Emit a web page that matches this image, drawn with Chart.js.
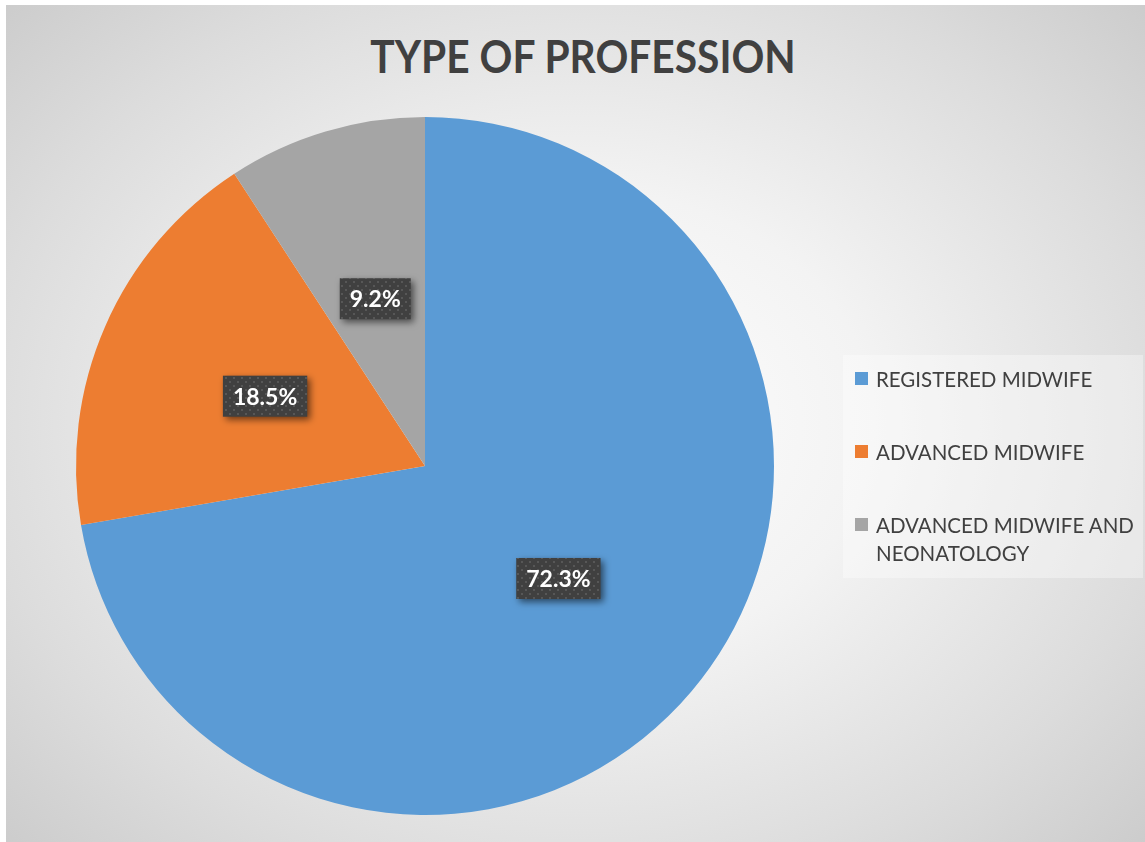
<!DOCTYPE html>
<html lang="en">
<head>
<meta charset="UTF-8">
<title>Type of Profession</title>
<script src="https://cdn.jsdelivr.net/npm/chart.js"></script>
<style>
    html, body { margin: 0; padding: 0; background: #fff; }
    body { width: 1145px; height: 842px; position: relative; overflow: hidden; font-family: Lato, "Open Sans", sans-serif; }
    .panel {
        position: absolute; left: 6px; top: 5px; right: 0; bottom: 0;
        background: radial-gradient(ellipse 75% 80% at 50% 50%, #ffffff 0%, #f3f3f3 35%, #dcdcdc 70%, #c6c6c6 100%);
    }
    #pieChart { position: absolute; left: 0; top: 0; }
    .title {
        position: absolute; left: 0; width: 1166px; top: 33px;
        text-align: center; font-weight: bold; font-size: 46px; line-height: 46px; color: #404040;
        transform: scaleX(0.885); transform-origin: 583px 50%;
    }
    .legend {
        position: absolute; left: 843px; top: 355px; width: 288px; height: 203px;
        padding: 10px 0 10px 12px;
        background: rgba(255, 255, 255, 0.35);
    }
    .legend .item { display: flex; align-items: flex-start; margin-bottom: 45px; }
    .legend .box { width: 13px; height: 13px; flex: none; margin-top: 7px; margin-right: 8px; }
    .legend .text { font-size: 20.5px; line-height: 28px; color: #404040; width: 264px; }
</style>
</head>
<body>
<div class="panel"></div>
<div class="title">TYPE OF PROFESSION</div>
<canvas id="pieChart" width="1145" height="842"></canvas>
<div class="legend" id="legend"></div>
<script>
    // 직업 유형별 비율
    const professions = ['REGISTERED MIDWIFE', 'ADVANCED MIDWIFE', 'ADVANCED MIDWIFE AND NEONATOLOGY'];
    const percents = [72.3, 18.5, 9.2];
    const sliceColors = ['#5B9BD5', '#ED7D31', '#A5A5A5'];

    // 라벨 박스용 점무늬 패턴
    function makeDotPattern(ctx) {
        const c = document.createElement('canvas');
        c.width = 8; c.height = 8;
        const p = c.getContext('2d');
        p.fillStyle = '#404040';
        p.fillRect(0, 0, 8, 8);
        p.fillStyle = '#575757';
        p.fillRect(1, 1, 2, 2);
        p.fillRect(5, 5, 2, 2);
        return ctx.createPattern(c, 'repeat');
    }

    // 조각 중앙에 퍼센트 라벨 그리기
    const labelBoxPlugin = {
        id: 'labelBox',
        afterDatasetsDraw(chart) {
            const ctx = chart.ctx;
            const pattern = makeDotPattern(ctx);
            chart.getDatasetMeta(0).data.forEach((arc, i) => {
                const pos = arc.getCenterPoint();
                const text = percents[i].toFixed(1) + '%';
                ctx.save();
                ctx.font = 'bold 23px Lato, "Open Sans", sans-serif';
                const w = ctx.measureText(text).width + 20;
                const h = 41;
                const x = pos.x - w / 2, y = pos.y - h / 2;
                ctx.shadowColor = 'rgba(0, 0, 0, 0.55)';
                ctx.shadowBlur = 7;
                ctx.shadowOffsetX = 3;
                ctx.shadowOffsetY = 3;
                ctx.fillStyle = pattern;
                ctx.fillRect(x, y, w, h);
                ctx.shadowColor = 'transparent';
                ctx.fillStyle = '#ffffff';
                ctx.textAlign = 'center';
                ctx.textBaseline = 'middle';
                ctx.fillText(text, pos.x, pos.y + 1);
                ctx.restore();
            });
        }
    };

    function renderLegend() {
        const legend = document.getElementById('legend');
        professions.forEach((name, i) => {
            const item = document.createElement('div');
            item.className = 'item';
            item.innerHTML = `<span class="box" style="background:${sliceColors[i]}"></span><span class="text">${name}</span>`;
            legend.appendChild(item);
        });
    }

    function renderChart() {
        new Chart(document.getElementById('pieChart'), {
            type: 'pie',
            data: {
                labels: professions,
                datasets: [{
                    data: percents,
                    backgroundColor: sliceColors,
                    borderWidth: 0
                }]
            },
            options: {
                responsive: false,
                animation: false,
                layout: { padding: { left: 76, right: 371, top: 117, bottom: 27 } },
                plugins: {
                    legend: { display: false },
                    tooltip: { enabled: false },
                    title: { display: false }
                }
            },
            plugins: [labelBoxPlugin]
        });
    }

    window.onload = function() {
        renderLegend();
        renderChart();
    };
</script>
</body>
</html>
